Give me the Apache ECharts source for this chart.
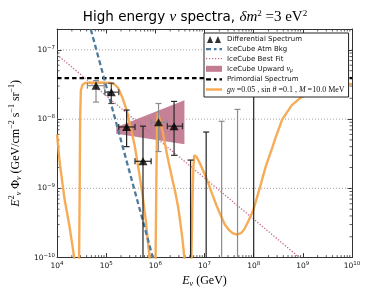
<!DOCTYPE html>
<html><head><meta charset="utf-8">
<script src="https://cdn.jsdelivr.net/npm/echarts@6/dist/echarts.min.js"></script>
<style>html,body{margin:0;padding:0;background:#fff}#c{width:390px;height:293px}</style>
</head><body><div id="c"></div>
<script>
// ---- tick labels (exponents of 10) ----
const xTickExps = [4, 5, 6, 7, 8, 9, 10];
const yTickExps = [-10, -9, -8, -7];
const minorMults = [2, 3, 4, 5, 6, 7, 8, 9];

// ---- Differential spectrum points ----
const diffE      = [6.2e4, 1.27e5, 2.6e5, 5.6e5, 1.16e6, 2.4e6];
const diffFlux   = [3.04e-8, 2.45e-8, 7.7e-9, 2.46e-9, 9.0e-9, 7.9e-9];
const diffElo    = [4.15e4, 9.4e4, 1.8e5, 3.85e5, 8.2e5, 1.75e6];
const diffEhi    = [9.1e4, 1.8e5, 3.85e5, 8.2e5, 1.75e6, 3.56e6];
const diffFluxLo = [1.76e-8, 1.68e-8, 4.0e-9, 1e-11, 3.4e-9, 3.0e-9];
const diffFluxHi = [3.6e-8, 3.3e-8, 1.35e-8, 7.9e-9, 1.68e-8, 1.8e-8];

// ---- Upper limits (bars to bottom) ----
const ulE    = [5.2e6, 1.08e7, 2.23e7, 4.69e7, 1.0e8];
const ulFlux = [2.56e-9, 6.5e-9, 9.3e-9, 1.38e-8, 5e-8];

// ---- IceCube atmospheric background ----
const atmE    = [4.0e4, 5.0e4, 1.0e5, 2.0e5, 5.0e5, 1.0e6];
const atmFlux = [3.3e-7, 1.83e-7, 3.0e-8, 4.9e-9, 4.5e-10, 7.3e-11];

// ---- IceCube best fit ----
const bestE    = [1e4, 1e5, 1e6, 1e7, 1e8, 1e9];
const bestFlux = [8.5e-8, 2.17e-8, 5.5e-9, 1.41e-9, 3.6e-10, 9.1e-11];

// ---- IceCube upward numu band ----
const bandE  = [1.6e5, 3.9e6];
const bandLo = [6.15e-9, 4.35e-9];
const bandHi = [7.6e-9, 1.87e-8];

// ---- Primordial spectrum ----
const primE    = [1e4, 1e10];
const primFlux = [3.9e-8, 3.9e-8];

// ---- Model curve ----
const modelE = [1e4, 1.13e4, 1.42e4, 1.78e4, 2.14e4, 2.26e4, 2.5e4,
  2.81e4, 2.88e4, 2.95e4, 3.05e4, 3.26e4, 3.73e4, 6.75e4, 1.27e5, 1.53e5, 1.75e5, 2.17e5, 2.64e5,
  3.16e5, 3.79e5, 4.55e5, 5.46e5, 6.40e5, 7.16e5, 7.67e5, 8.5e5,
  1.01e6, 1.05e6, 1.08e6, 1.11e6, 1.18e6, 1.40e6, 1.62e6, 1.89e6, 2.20e6, 2.56e6, 2.93e6, 3.21e6, 3.52e6, 3.90e6, 4.5e6,
  5.41e6, 5.66e6, 5.93e6, 6.21e6, 6.49e6, 6.95e6, 8.34e6, 1.0e7, 1.20e7, 1.44e7, 1.73e7, 2.14e7, 2.59e7, 3.11e7,
  3.73e7, 4.54e7, 5.50e7, 6.44e7, 7.73e7, 9.70e7, 1.32e8, 1.75e8, 2.40e8, 2.79e8, 3.79e8, 5.97e8, 8.59e8,
  1.28e9, 2.13e9, 3.67e9, 5.79e9, 1e10];
const modelFlux = [6.0e-9, 2.4e-9, 7.0e-10, 2.9e-10, 1.23e-10, 9.3e-11, 1e-12,
  1.0e-10, 7.7e-10, 1.03e-8, 2.56e-8, 3.11e-8, 3.32e-8, 3.37e-8, 3.32e-8, 3.11e-8, 2.82e-8, 1.98e-8, 1.30e-8,
  7.46e-9, 4.17e-9, 1.91e-9, 8.2e-10, 3.43e-10, 1.52e-10, 1.0e-10, 1e-12,
  1.0e-10, 1.48e-9, 7.46e-9, 1.22e-8, 1.10e-8, 6.7e-9, 3.9e-9, 2.27e-9, 1.38e-9, 8.6e-10, 5.2e-10, 3.24e-10, 1.98e-10, 1.0e-10, 1e-12,
  1.0e-10, 5.57e-10, 2.04e-9, 3.01e-9, 3.11e-9, 2.82e-9, 2.18e-9, 1.63e-9, 1.17e-9, 8.2e-10, 5.8e-10, 4.04e-10, 3.01e-10, 2.52e-10,
  2.25e-10, 2.14e-10, 2.25e-10, 2.56e-10, 3.32e-10, 4.74e-10, 9.9e-10, 2.04e-9, 3.9e-9, 5.4e-9, 9.8e-9, 1.59e-8, 1.98e-8,
  2.32e-8, 2.65e-8, 2.92e-8, 3.11e-8, 3.21e-8];

const xMin = 1e4, xMax = 1e10, yMin = 1e-10, yMax = 2e-7;
const diffErrColors = ['#8c8c8c', '#444', '#222', '#222', '#8c8c8c', '#2a2a2a'];
const ulColors = ['#222', '#222', '#8c8c8c', '#8c8c8c', '#222'];

const SERIF = 'Liberation Serif';
const SANS = 'DejaVu Sans';
const C_ORANGE = '#f5a84e', C_BLUE = '#4e7b9c', C_PINK = '#c9698d', C_BAND = '#c27b91';

function supLabel(exps) {
  return function (v) {
    const l = Math.log10(v), e = Math.round(l);
    if (Math.abs(l - e) > 1e-6 || exps.indexOf(e) < 0) return '';
    return '{b|10}{sup|' + (e < 0 ? '\u2212' + (-e) : e) + '}';
  };
}
const tickRich = {
  b: { fontSize: 7.5, fontFamily: SANS, color: '#111', lineHeight: 11 },
  sup: { fontSize: 5.5, fontFamily: SANS, color: '#111', lineHeight: 6, verticalAlign: 'top' }
};

const chart = echarts.init(document.getElementById('c'), null, { renderer: 'canvas' });

const minorData = [];
xTickExps.forEach(function (e) { if (e < 10) minorMults.forEach(function (m) { minorData.push([m * Math.pow(10, e), yMin, 0]); }); });
yTickExps.forEach(function (e) { minorMults.forEach(function (m) { const v = m * Math.pow(10, e); if (v < yMax) minorData.push([xMin, v, 1]); }); });
yTickExps.forEach(function (e) { const v = Math.pow(10, e); if (v > yMin) minorData.push([xMin, v, 2]); });

const legendLabels = {
  'Differential Spectrum': '{s|Differential Spectrum}',
  'IceCube Atm Bkg': '{s|IceCube Atm Bkg}',
  'IceCube Best Fit': '{s|IceCube Best Fit}',
  'IceCube Upward': '{s|IceCube Upward }{m|\u03bd}{sub|\u03bc}',
  'Primordial Spectrum': '{s|Primordial Spectrum}',
  'model': '{m|g}{sub|N}{r| =0.05 , sin }{m|\u03b8}{r| =0.1 , }{m|M}{r| =10.0 MeV}'
};

const option = {
  animation: false,
  title: {
    text: '{s|High energy }{m|\u03bd}{s| spectra, }{m|\u03b4m}{sup|2}{r| =3 eV}{sup|2}',
    left: 'center', top: 9, padding: 0,
    textStyle: {
      fontWeight: 'normal',
      rich: {
        s: { fontFamily: SANS, fontSize: 13.5, fontWeight: 'normal', color: '#000', lineHeight: 16 },
        m: { fontFamily: SERIF, fontStyle: 'italic', fontWeight: 'normal', fontSize: 15, color: '#000', lineHeight: 16 },
        r: { fontFamily: SERIF, fontSize: 15, fontWeight: 'normal', color: '#000', lineHeight: 16 },
        sup: { fontFamily: SERIF, fontSize: 9, fontWeight: 'normal', color: '#000', lineHeight: 8, verticalAlign: 'top' }
      }
    }
  },
  grid: { left: 48, right: 38, top: 29, bottom: 30 },
  legend: {
    orient: 'vertical', left: 204, top: 33, z: 50, zlevel: 1,
    backgroundColor: '#fff', borderColor: '#222', borderWidth: 1, borderRadius: 0,
    padding: [3, 4, 3, 2], itemGap: 2.6, itemWidth: 16, itemHeight: 7,
    itemStyle: { borderWidth: 0 },
    selectedMode: false,
    formatter: function (n) { return legendLabels[n]; },
    textStyle: {
      color: '#111',
      rich: {
        s: { fontFamily: SANS, fontSize: 7, lineHeight: 9, color: '#111' },
        m: { fontFamily: SERIF, fontStyle: 'italic', fontSize: 8, lineHeight: 9, color: '#111' },
        r: { fontFamily: SERIF, fontSize: 8, lineHeight: 9, color: '#111' },
        sub: { fontFamily: SERIF, fontStyle: 'italic', fontSize: 5.5, lineHeight: 5, verticalAlign: 'bottom', color: '#111' }
      }
    },
    data: [
      { name: 'Differential Spectrum', icon: 'path://M0,8L3.5,0L7,8Z M9,8L12.5,0L16,8Z' },
      { name: 'IceCube Atm Bkg', icon: 'path://M0,0H5V2.4H0Z M8,0H10.5V2.4H8Z M13.5,0H16V2.4H13.5Z' },
      { name: 'IceCube Best Fit', icon: 'path://M0,0H1.2V1.2H0Z M3,0H4.2V1.2H3Z M6,0H7.2V1.2H6Z M9,0H10.2V1.2H9Z M12,0H13.2V1.2H12Z M14.8,0H16V1.2H14.8Z' },
      { name: 'IceCube Upward', icon: 'path://M0,0H16V6H0Z' },
      { name: 'Primordial Spectrum', icon: 'path://M0,0H5V2.4H0Z M8,0H10.5V2.4H8Z M13.5,0H16V2.4H13.5Z' },
      { name: 'model', icon: 'path://M0,0H16V2.4H0Z' }
    ]
  },
  xAxis: [
    {
      type: 'log', min: xMin, max: xMax, logBase: 10, position: 'bottom',
      axisLine: { show: true, lineStyle: { color: '#333', width: 1 } },
      axisTick: { show: true, inside: true, length: 4.5, lineStyle: { color: '#333' } },
      axisLabel: { show: true, margin: 3, formatter: supLabel(xTickExps), rich: tickRich },
      splitLine: { show: false },
      name: '{i|E}{sub|\u03bd}{r| (GeV)}', nameLocation: 'middle', nameGap: 14,
      nameTextStyle: {
        rich: {
          i: { fontFamily: SERIF, fontStyle: 'italic', fontSize: 12, color: '#000', lineHeight: 14 },
          r: { fontFamily: SERIF, fontSize: 12, color: '#000', lineHeight: 14 },
          sub: { fontFamily: SERIF, fontStyle: 'italic', fontSize: 8, color: '#000', lineHeight: 7, verticalAlign: 'bottom' }
        }
      }
    },
    {
      type: 'log', min: xMin, max: xMax, logBase: 10, position: 'top',
      axisLine: { show: true, lineStyle: { color: '#333', width: 1 } },
      axisTick: { show: true, inside: true, length: 4.5, lineStyle: { color: '#333' } },
      axisLabel: { show: false }, splitLine: { show: false }
    }
  ],
  yAxis: [
    {
      type: 'log', min: yMin, max: yMax, logBase: 10, position: 'left',
      axisLine: { show: true, lineStyle: { color: '#333', width: 1 } },
      axisTick: { show: true, inside: true, length: 4.5, lineStyle: { color: '#333' } },
      axisLabel: { show: true, margin: 2, formatter: supLabel(yTickExps), rich: tickRich },
      splitLine: { show: false },
      name: '{i|E}{sup|2}{sub|\u03bd}{r| \u03a6}{sub|\u03bd}{r| (GeV/cm}{sup|\u22122}{r| s}{sup|\u22121}{r| sr}{sup|\u22121}{r|)}',
      nameLocation: 'middle', nameGap: 23, nameRotate: 90,
      nameTextStyle: {
        rich: {
          i: { fontFamily: SERIF, fontStyle: 'italic', fontSize: 12, color: '#000', lineHeight: 15 },
          r: { fontFamily: SERIF, fontSize: 12, color: '#000', lineHeight: 15 },
          sup: { fontFamily: SERIF, fontSize: 8, color: '#000', lineHeight: 8, verticalAlign: 'top' },
          sub: { fontFamily: SERIF, fontStyle: 'italic', fontSize: 8, color: '#000', lineHeight: 8, verticalAlign: 'bottom' }
        }
      }
    },
    {
      type: 'log', min: yMin, max: yMax, logBase: 10, position: 'right',
      axisLine: { show: true, lineStyle: { color: '#333', width: 1 } },
      axisTick: { show: true, inside: true, length: 4.5, lineStyle: { color: '#333' } },
      axisLabel: { show: false }, splitLine: { show: false }
    }
  ],
  series: [
    {
      type: 'custom', name: 'ticks', silent: true, z: 1,
      data: minorData,
      renderItem: function (params, api) {
        const cs = params.coordSys;
        const flag = api.value(2);
        const st = { stroke: '#333', lineWidth: 0.8 };
        if (flag === 0) {
          const px = api.coord([api.value(0), yMin])[0];
          return { type: 'group', children: [
            { type: 'line', shape: { x1: px, y1: cs.y + cs.height, x2: px, y2: cs.y + cs.height - 2.5 }, style: st },
            { type: 'line', shape: { x1: px, y1: cs.y, x2: px, y2: cs.y + 2.5 }, style: st }
          ] };
        } else if (flag === 1) {
          const py = api.coord([xMin, api.value(1)])[1];
          return { type: 'group', children: [
            { type: 'line', shape: { x1: cs.x, y1: py, x2: cs.x + 2.5, y2: py }, style: st },
            { type: 'line', shape: { x1: cs.x + cs.width, y1: py, x2: cs.x + cs.width - 2.5, y2: py }, style: st }
          ] };
        } else {
          const py = api.coord([xMin, api.value(1)])[1];
          return { type: 'line', shape: { x1: cs.x, y1: py, x2: cs.x + cs.width, y2: py },
            style: { stroke: '#888', lineWidth: 0.8, lineDash: [1, 2] } };
        }
      }
    },
    {
      type: 'custom', name: 'IceCube Upward', z: 2, silent: true,
      itemStyle: { color: C_BAND },
      data: [[bandE[0], bandLo[0]]],
      renderItem: function (params, api) {
        const pts = [];
        for (let i = 0; i < bandE.length; i++) pts.push(api.coord([bandE[i], bandHi[i]]));
        for (let i = bandE.length - 1; i >= 0; i--) pts.push(api.coord([bandE[i], bandLo[i]]));
        return { type: 'polygon', shape: { points: pts }, style: { fill: C_BAND, opacity: 0.95 } };
      }
    },
    {
      type: 'line', name: 'IceCube Best Fit', z: 3, color: C_PINK, symbol: 'none', clip: true,
      data: bestE.map(function (e, i) { return [e, bestFlux[i]]; }),
      lineStyle: { color: C_PINK, width: 1.3, type: [1.3, 1.7] }
    },
    {
      type: 'line', name: 'Primordial Spectrum', z: 3, color: '#000', symbol: 'none', clip: true,
      data: primE.map(function (e, i) { return [e, primFlux[i]]; }),
      lineStyle: { color: '#000', width: 2.2, type: [4.5, 3] }
    },
    {
      type: 'line', name: 'model', z: 4, color: C_ORANGE, symbol: 'none', clip: true,
      data: modelE.map(function (e, i) { return [e, modelFlux[i]]; }),
      lineStyle: { color: C_ORANGE, width: 2.4, opacity: 0.95 }
    },
    {
      type: 'line', name: 'IceCube Atm Bkg', z: 5, color: C_BLUE, symbol: 'none', clip: true,
      data: atmE.map(function (e, i) { return [e, atmFlux[i]]; }),
      lineStyle: { color: C_BLUE, width: 2.3, type: [5, 3] }
    },
    {
      type: 'custom', name: 'upper limits', z: 6, silent: true,
      data: ulE.map(function (e, i) { return [e, ulFlux[i], i]; }),
      renderItem: function (params, api) {
        const i = api.value(2);
        const top = api.coord([api.value(0), api.value(1)]);
        const bot = api.coord([api.value(0), yMin]);
        const st = { stroke: ulColors[i], lineWidth: 1.2 };
        return { type: 'group', children: [
          { type: 'line', shape: { x1: top[0], y1: top[1], x2: bot[0], y2: bot[1] }, style: st },
          { type: 'line', shape: { x1: top[0] - 3, y1: top[1], x2: top[0] + 3, y2: top[1] }, style: st }
        ] };
      }
    },
    {
      type: 'custom', name: 'errbars', z: 6, silent: true,
      data: diffE.map(function (e, i) { return [e, diffFlux[i], diffElo[i], diffEhi[i], diffFluxLo[i], diffFluxHi[i], i]; }),
      renderItem: function (params, api) {
        const i = api.value(6);
        const l = api.coord([api.value(2), api.value(1)]);
        const r = api.coord([api.value(3), api.value(1)]);
        const lo = api.coord([api.value(0), Math.max(api.value(4), yMin)]);
        const hi = api.coord([api.value(0), api.value(5)]);
        const st = { stroke: diffErrColors[i], lineWidth: 1.2 };
        const cap = 3;
        const ch = [
          { type: 'line', shape: { x1: l[0], y1: l[1], x2: r[0], y2: r[1] }, style: st },
          { type: 'line', shape: { x1: l[0], y1: l[1] - cap, x2: l[0], y2: l[1] + cap }, style: st },
          { type: 'line', shape: { x1: r[0], y1: r[1] - cap, x2: r[0], y2: r[1] + cap }, style: st },
          { type: 'line', shape: { x1: hi[0], y1: hi[1], x2: lo[0], y2: lo[1] }, style: st },
          { type: 'line', shape: { x1: hi[0] - cap, y1: hi[1], x2: hi[0] + cap, y2: hi[1] }, style: st }
        ];
        if (api.value(4) > yMin) ch.push({ type: 'line', shape: { x1: lo[0] - cap, y1: lo[1], x2: lo[0] + cap, y2: lo[1] }, style: st });
        return { type: 'group', children: ch };
      }
    },
    {
      type: 'scatter', name: 'Differential Spectrum', z: 7, color: '#000',
      symbol: 'triangle', symbolSize: [9, 8],
      data: diffE.map(function (e, i) { return [e, diffFlux[i]]; }),
      itemStyle: { color: '#000' }
    }
  ]
};
chart.setOption(option);
</script>
</body></html>
